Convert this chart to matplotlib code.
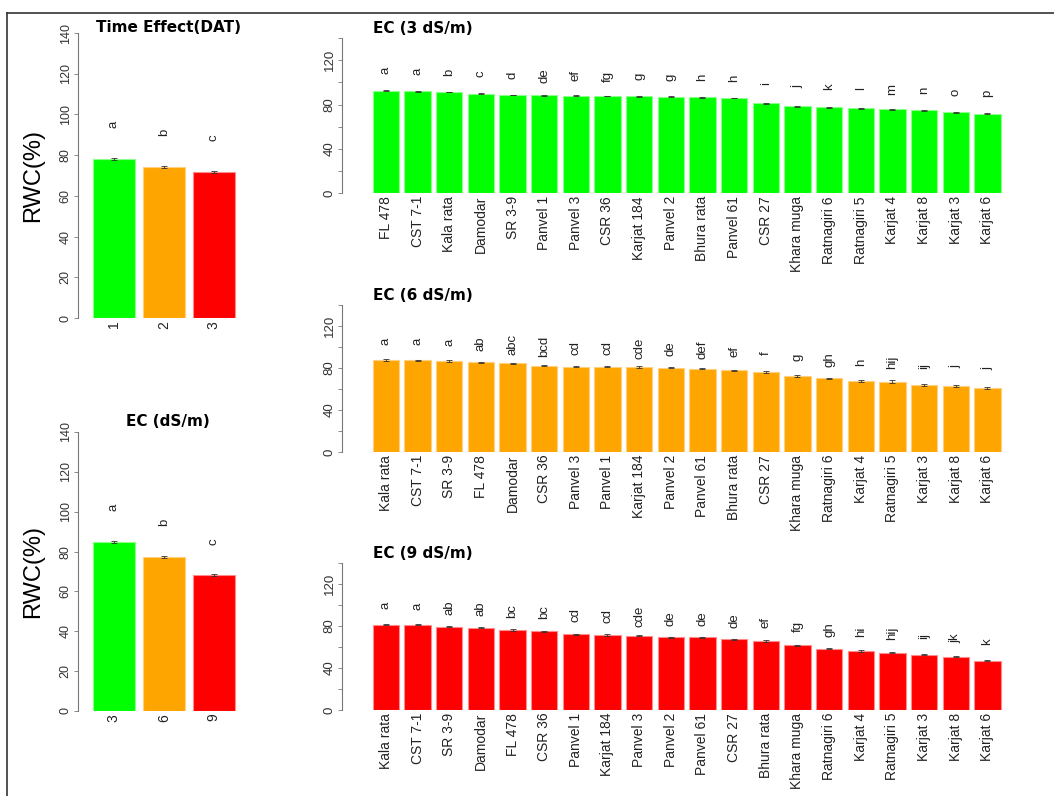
import numpy as np
import matplotlib
matplotlib.use("Agg")
import matplotlib.pyplot as plt
from matplotlib.lines import Line2D

# ---- data ----
dat_levels = ["1", "2", "3"]
dat_rwc = [78.1, 74.2, 71.8]
dat_se = [0.5, 0.5, 0.5]
dat_letters = ["a", "b", "c"]

ec_levels = ["3", "6", "9"]
ec_rwc = [85.0, 77.4, 68.2]
ec_se = [0.5, 0.6, 0.6]
ec_letters = ["a", "b", "c"]

ec3_names = ["FL 478", "CST 7-1", "Kala rata", "Damodar", "SR 3-9", "Panvel 1",
             "Panvel 3", "CSR 36", "Karjat 184", "Panvel 2", "Bhura rata",
             "Panvel 61", "CSR 27", "Khara muga", "Ratnagiri 6", "Ratnagiri 5",
             "Karjat 4", "Karjat 8", "Karjat 3", "Karjat 6"]
ec3_rwc = [92.4, 91.9, 91.3, 89.7, 88.6, 88.3, 87.9, 87.7, 87.4, 87.0,
           86.5, 85.9, 81.1, 78.6, 77.7, 76.6, 75.7, 74.8, 73.0, 71.7]
ec3_se = [0.4, 0.4, 0.4, 0.4, 0.4, 0.4, 0.4, 0.4, 0.4, 0.4,
          0.4, 0.4, 0.4, 0.4, 0.4, 0.4, 0.4, 0.4, 0.5, 0.5]
ec3_letters = ["a", "a", "b", "c", "d", "de", "ef", "fg", "g", "g",
               "h", "h", "i", "j", "k", "l", "m", "n", "o", "p"]

ec6_names = ["Kala rata", "CST 7-1", "SR 3-9", "FL 478", "Damodar", "CSR 36",
             "Panvel 3", "Panvel 1", "Karjat 184", "Panvel 2", "Panvel 61",
             "Bhura rata", "CSR 27", "Khara muga", "Ratnagiri 6", "Karjat 4",
             "Ratnagiri 5", "Karjat 3", "Karjat 8", "Karjat 6"]
ec6_rwc = [87.6, 87.3, 86.7, 85.4, 84.5, 82.2, 81.4, 81.2, 81.0, 80.3,
           79.3, 77.8, 76.2, 72.4, 70.2, 67.6, 67.0, 63.8, 63.1, 61.2]
ec6_se = [0.6, 0.6, 0.6, 0.7, 0.7, 0.7, 0.7, 0.7, 0.8, 0.7,
          0.7, 0.6, 0.7, 0.8, 0.7, 0.7, 1.2, 0.7, 1.0, 0.8]
ec6_letters = ["a", "a", "a", "ab", "abc", "bcd", "cd", "cd", "cde", "de",
               "def", "ef", "f", "g", "gh", "h", "hij", "ij", "j", "j"]

ec9_names = ["Kala rata", "CST 7-1", "SR 3-9", "Damodar", "FL 478", "CSR 36",
             "Panvel 1", "Karjat 184", "Panvel 3", "Panvel 2", "Panvel 61",
             "CSR 27", "Bhura rata", "Khara muga", "Ratnagiri 6", "Karjat 4",
             "Ratnagiri 5", "Karjat 3", "Karjat 8", "Karjat 6"]
ec9_rwc = [81.2, 81.0, 79.3, 78.4, 76.2, 75.0, 72.1, 71.4, 70.8, 69.2,
           69.2, 67.3, 65.7, 61.6, 58.4, 56.2, 54.6, 52.7, 50.8, 47.0]
ec9_se = [0.5, 0.5, 0.6, 0.6, 0.8, 0.5, 0.6, 0.6, 0.7, 0.7,
          0.6, 0.6, 0.9, 0.6, 0.7, 0.6, 0.6, 0.6, 0.6, 0.7]
ec9_letters = ["a", "a", "ab", "ab", "bc", "bc", "cd", "cd", "cde", "de",
               "de", "de", "ef", "fg", "gh", "hi", "hij", "ij", "jk", "k"]

GREEN, ORANGE, RED = "#00ff00", "#ffa500", "#ff0000"
EDGE = {GREEN: "#8cff8c", ORANGE: "#ffd080", RED: "#ff8c8c"}

plt.rcParams["font.family"] = ["Liberation Sans", "DejaVu Sans"]

W, H = 1054, 796
fig = plt.figure(figsize=(W / 100, H / 100), dpi=100)


def px_axes(x0, x1, ytop, ybot):
    # axes from pixel box (top-left origin)
    return fig.add_axes([x0 / W, (H - ybot) / H, (x1 - x0) / W, (ybot - ytop) / H])


def style_axis(ax, labels, tick_fs, lab_fs, ytick_labels):
    for s in ["top", "right", "bottom"]:
        ax.spines[s].set_visible(False)
    ax.spines["left"].set_color("#777777")
    ax.spines["left"].set_linewidth(0.8)
    ax.set_ylim(0, 140)
    ax.set_yticks(np.arange(0, 141, 20))
    ax.set_yticklabels(ytick_labels, rotation=90, va="center", fontsize=tick_fs,
                       color="#333333")
    ax.tick_params(axis="y", length=3, width=0.6, color="#777777", pad=1.5)
    ax.set_xticks(np.arange(len(labels)))
    ax.set_xticklabels(labels, rotation=90, fontsize=lab_fs, color="#222222")
    ax.tick_params(axis="x", length=0, pad=2)
    ax.patch.set_alpha(0)


def draw_bars(ax, vals, se, letters, colors, let_off, let_fs):
    x = np.arange(len(vals))
    ax.bar(x, vals, width=0.833, color=colors,
           edgecolor=[EDGE[c] for c in colors], linewidth=0.8)
    ax.errorbar(x, vals, yerr=se, fmt="none", ecolor="#333333",
                elinewidth=0.6, capsize=2.5, capthick=0.6)
    for xi, v, lt in zip(x, vals, letters):
        ax.text(xi, v + let_off, lt, rotation=90, ha="center", va="center",
                fontsize=let_fs, color="#222222")


# ---- left panels ----
left_ticks = ["0", "20", "40", "60", "80", "100", "120", "140"]

ax1 = px_axes(78, 242, 33, 318)
draw_bars(ax1, dat_rwc, dat_se, dat_letters, [GREEN, ORANGE, RED], 17, 9.5)
style_axis(ax1, dat_levels, 9, 10, left_ticks)
ax1.set_xlim(-0.717, 2.563)
ax1.set_ylabel("RWC(%)", fontsize=17, labelpad=11)
ax1.set_title("Time Effect(DAT)", fontsize=11, fontweight="bold",
              family="DejaVu Sans", y=1.0, pad=0.5, x=0.55)

ax2 = px_axes(78, 242, 432, 711)
draw_bars(ax2, ec_rwc, ec_se, ec_letters, [GREEN, ORANGE, RED], 17, 9.5)
style_axis(ax2, ec_levels, 9, 10, left_ticks)
ax2.set_xlim(-0.717, 2.563)
ax2.set_ylabel("RWC(%)", fontsize=17, labelpad=11)
ax2.set_title("EC (dS/m)", fontsize=11, fontweight="bold",
              family="DejaVu Sans", y=1.0, pad=4, x=0.55)

# ---- right panels ----
right_ticks = ["0", "", "40", "", "80", "", "120", ""]
panels = [
    (ec3_names, ec3_rwc, ec3_se, ec3_letters, GREEN, "EC (3 dS/m)", 38, 193.3),
    (ec6_names, ec6_rwc, ec6_se, ec6_letters, ORANGE, "EC (6 dS/m)", 305, 452),
    (ec9_names, ec9_rwc, ec9_se, ec9_letters, RED, "EC (9 dS/m)", 563, 710),
]
for names, vals, se, letters, col, title, ytop, ybot in panels:
    ax = px_axes(342, 1026, ytop, ybot)
    draw_bars(ax, vals, se, letters, [col] * len(vals), 18, 9.5)
    style_axis(ax, names, 9.5, 10, right_ticks)
    ax.set_xlim(-1.386, 20.22)
    ax.annotate(title, xy=(-0.4167, 1.0), xycoords=("data", "axes fraction"),
                xytext=(0, 6.5), textcoords="offset points", ha="left", va="center",
                fontsize=11, fontweight="bold", family="DejaVu Sans")

# frame lines (top and left edges of the original figure box)
fig.add_artist(Line2D([7 / W, 7 / W], [0, 1 - 13 / H], color="#333333", lw=1.2))
fig.add_artist(Line2D([7 / W, 1], [1 - 13 / H, 1 - 13 / H], color="#333333", lw=1.2))

fig.savefig("out.png", dpi=100)
